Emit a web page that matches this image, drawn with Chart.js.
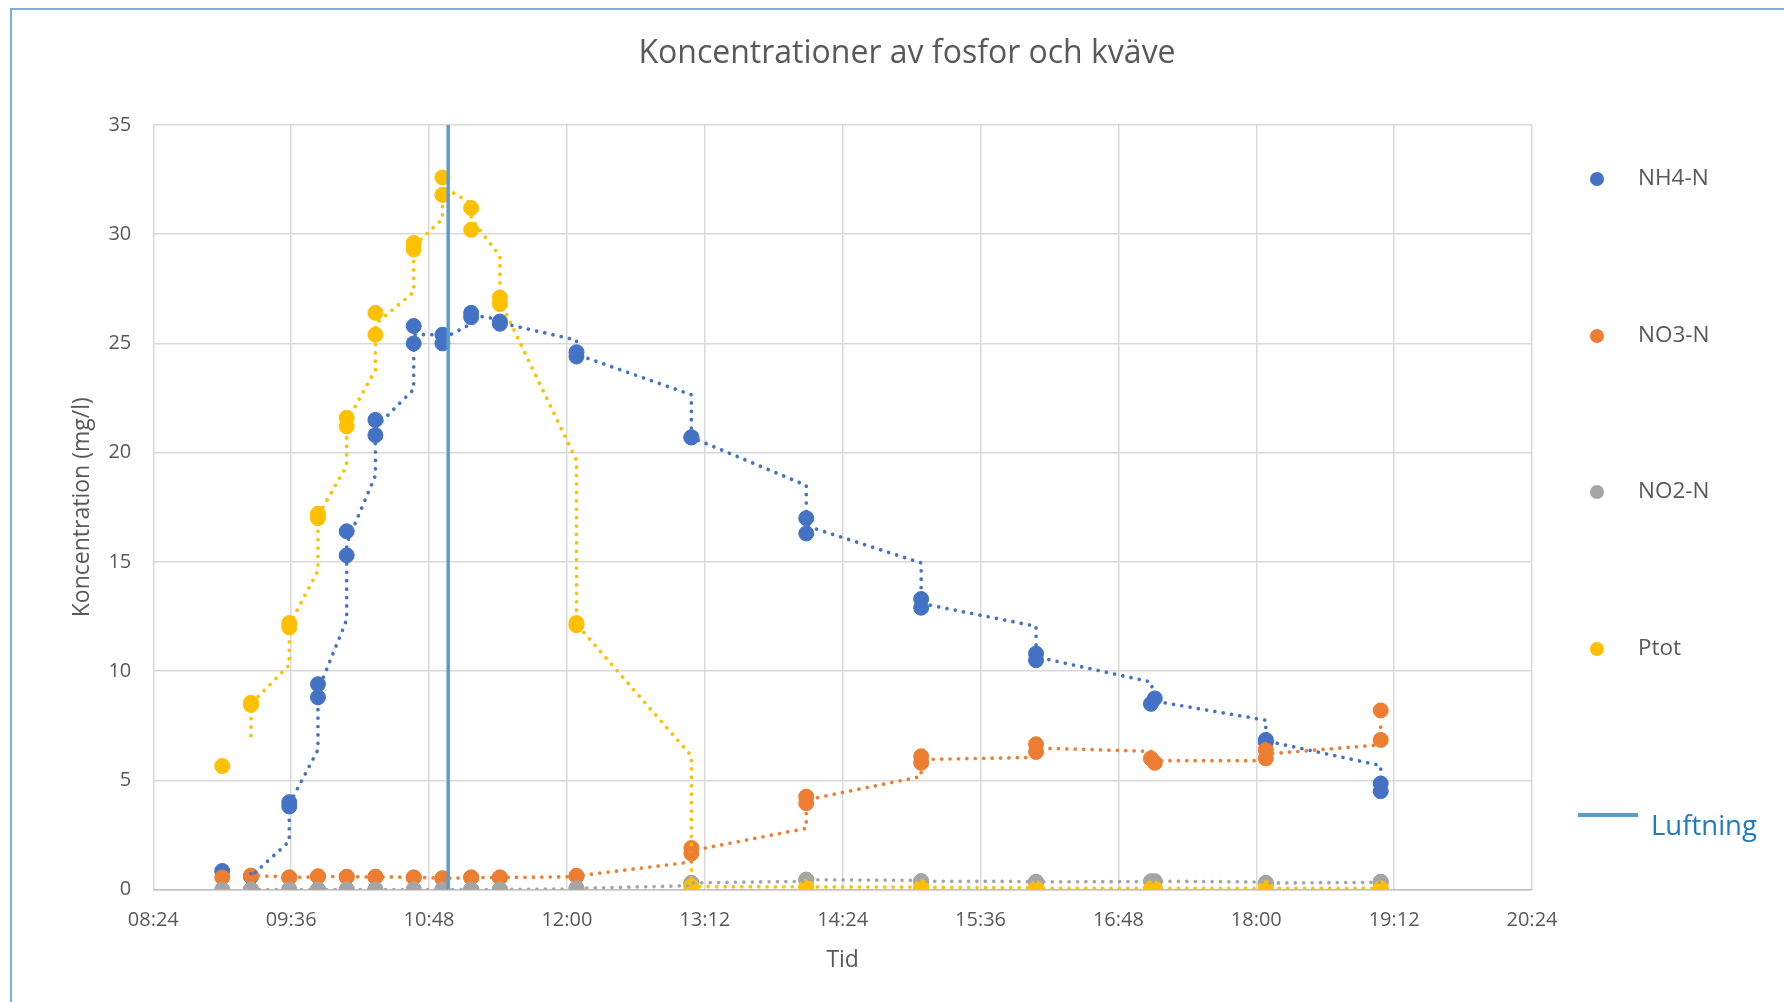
<!DOCTYPE html>
<html>
<head>
<meta charset="utf-8">
<script src="https://cdn.jsdelivr.net/npm/chart.js@4.4.1/dist/chart.umd.min.js"></script>
<style>
html,body{margin:0;padding:0;background:#ffffff;overflow:hidden;}
#wrap{position:relative;width:1784px;height:1002px;}
canvas{display:block;}
</style>
</head>
<body>
<div id="wrap"><canvas id="chart" width="1784" height="1002"></canvas></div>
<script>
// ---------------- data ----------------
const chartTitle = "Koncentrationer av fosfor och kväve";
const xAxisTitle = "Tid";
const yAxisTitle = "Koncentration (mg/l)";
const seriesNames = ["NH4-N", "NO3-N", "NO2-N", "Ptot"];
const luftningName = "Luftning";

const sampleTimes = ["09:00",
  "09:15","09:15","09:35","09:35","09:50","09:50","10:05","10:05","10:20","10:20",
  "10:40","10:40","10:55","10:55","11:10","11:10","11:25","11:25","12:05","12:05",
  "13:05","13:05","14:05","14:05","15:05","15:05","16:05","16:05","17:05","17:07",
  "18:05","18:05","19:05","19:05"];

const nh4 = [0.85,
  0.6,0.6, 3.8,4.0, 8.8,9.4, 15.3,16.4, 21.5,20.8,
  25.0,25.8, 25.0,25.4, 26.4,26.2, 26.0,25.9, 24.4,24.6,
  20.7,20.7, 16.3,17.0, 12.9,13.3, 10.8,10.5, 8.5,8.75,
  6.75,6.85, 4.5,4.85];

const no3 = [0.55,
  0.63,0.63, 0.55,0.55, 0.6,0.6, 0.58,0.58, 0.58,0.58,
  0.55,0.55, 0.5,0.52, 0.55,0.55, 0.55,0.55, 0.62,0.62,
  1.9,1.65, 3.95,4.25, 6.1,5.8, 6.3,6.65, 6.0,5.8,
  6.0,6.4, 6.85,8.2];

const no2 = [0,
  0,0, 0,0, 0,0, 0,0, 0,0,
  0,0, 0,0, 0,0, 0,0, 0.05,0.05,
  0.3,0.3, 0.45,0.45, 0.38,0.38, 0.35,0.35, 0.38,0.38,
  0.3,0.3, 0.35,0.35];

const ptot = [5.65,
  8.45,8.55, 12.0,12.2, 17.0,17.2, 21.6,21.2, 26.4,25.4,
  29.3,29.6, 31.8,32.6, 30.2,31.2, 26.8,27.1, 12.2,12.1,
  0.13,0.13, 0.12,0.12, 0.1,0.1, 0.05,0.05, 0.05,0.05,
  0.05,0.05, 0.05,0.05];

const luftningTimes = ["10:58", "10:58"];
const luftningValues = [0, 35];

const xAxisMin = "08:24", xAxisMax = "20:24", xStepMinutes = 72;
const yAxisMin = 0, yAxisMax = 35, yAxisStep = 5;
const trendPeriod = 2; // moving-average trendline period (as in the source chart)

// ---------------- helpers ----------------
function toMin(s){ const p = s.split(":").map(Number); return p[0]*60 + p[1] + (p[2]||0)/60; }
function fmtTime(m){ const h = Math.floor(m/60), mm = Math.round(m - h*60); return String(h).padStart(2,"0") + ":" + String(mm).padStart(2,"0"); }
function points(times, vals){ return vals.map((v,i)=>({x: toMin(times[i]), y: v})); }
function movingAverage(times, vals, n){
  const out = [];
  for (let i = n-1; i < vals.length; i++){
    let s = 0; for (let k = 0; k < n; k++) s += vals[i-k];
    out.push({x: toMin(times[i]), y: s/n});
  }
  return out;
}

const colors = ["#4472C4", "#ED7D31", "#A5A5A5", "#FFC000"];
const luftColor = "#5B9BD5";
const allSeries = [nh4, no3, no2, ptot];

const datasets = [];
allSeries.forEach((vals, i) => {
  datasets.push({
    type: "scatter",
    label: seriesNames[i],
    data: points(sampleTimes, vals),
    backgroundColor: colors[i],
    borderColor: colors[i],
    pointRadius: 7.5,
    pointHoverRadius: 7.5,
    pointBorderWidth: 1,
    order: 4 - i
  });
});
allSeries.forEach((vals, i) => {
  datasets.push({
    type: "line",
    label: seriesNames[i] + " trend",
    data: movingAverage(sampleTimes, vals, trendPeriod),
    borderColor: colors[i],
    borderWidth: 3.7,
    borderDash: [0.01, 8.4],
    borderCapStyle: "round",
    pointRadius: 0,
    fill: false,
    tension: 0,
    order: 0
  });
});
datasets.push({
  type: "line",
  label: luftningName,
  data: points(luftningTimes, luftningValues),
  borderColor: luftColor,
  borderWidth: 3.5,
  pointRadius: 0,
  fill: false,
  order: -1
});

const FONT = "'Open Sans', 'Segoe UI', 'Noto Sans', sans-serif";
const TEXT = "#595959";
const titleCenterX = 907;

const framePlugin = {
  id: "frame",
  beforeDraw(chart){
    const c = chart.ctx;
    c.save();
    c.fillStyle = "#ffffff";
    c.fillRect(0,0,chart.width,chart.height);
    c.strokeStyle = "#74B4DC";
    c.lineWidth = 2;
    c.beginPath();
    c.moveTo(11, chart.height + 5);
    c.lineTo(11, 9);
    c.lineTo(chart.width + 5, 9);
    c.stroke();
    c.restore();
  },
  afterLayout(chart){
    const tb = chart.titleBlock;
    if (tb){
      const shift = titleCenterX - (tb.left + tb.right)/2;
      tb.left += shift; tb.right += shift;
    }
  }
};

const legendPlugin = {
  id: "customLegend",
  afterDraw(chart){
    const c = chart.ctx;
    const ys = [179, 336, 492, 649];
    c.save();
    c.textBaseline = "middle";
    c.textAlign = "left";
    seriesNames.forEach((name, i) => {
      c.fillStyle = colors[i];
      c.beginPath();
      c.arc(1597, ys[i], 7, 0, Math.PI*2);
      c.fill();
      c.fillStyle = TEXT;
      c.font = "22.5px " + FONT;
      c.fillText(name, 1638, ys[i]);
    });
    c.strokeStyle = luftColor;
    c.lineWidth = 4;
    c.beginPath();
    c.moveTo(1578, 815);
    c.lineTo(1638, 815);
    c.stroke();
    c.fillStyle = "#1B7BC4";
    c.font = "27.5px " + FONT;
    c.fillText(luftningName, 1651, 827);
    c.restore();
  }
};

new Chart(document.getElementById("chart"), {
  data: { datasets },
  options: {
    responsive: false,
    animation: false,
    devicePixelRatio: 1,
    layout: { padding: { left: 0, right: 252, top: 0, bottom: 0 } },
    plugins: {
      legend: { display: false },
      tooltip: { enabled: false },
      title: {
        display: true,
        text: chartTitle,
        color: TEXT,
        font: { family: FONT, size: 32, weight: "normal" },
        padding: { top: 35, bottom: 51.6 }
      }
    },
    scales: {
      x: {
        type: "linear",
        min: toMin(xAxisMin),
        max: toMin(xAxisMax),
        afterFit(scale){ scale.height = 112.5; },
        ticks: {
          stepSize: xStepMinutes,
          color: TEXT,
          font: { family: FONT, size: 20 },
          padding: 19,
          maxRotation: 0,
          callback: (v) => fmtTime(v)
        },
        grid: { color: "#D9D9D9", lineWidth: 1.5, drawTicks: false },
        border: { display: true, color: "#BFBFBF", width: 1.5 },
        title: {
          display: true, text: xAxisTitle, color: TEXT,
          font: { family: FONT, size: 23 },
          padding: { top: 4, bottom: 28 }
        }
      },
      y: {
        type: "linear",
        min: yAxisMin,
        max: yAxisMax,
        afterFit(scale){ scale.width = 153.3; },
        ticks: {
          stepSize: yAxisStep,
          color: TEXT,
          font: { family: FONT, size: 20 },
          padding: 22
        },
        grid: { color: "#D9D9D9", lineWidth: 1.5, drawTicks: false },
        border: { display: false },
        title: {
          display: true, text: yAxisTitle, color: TEXT,
          font: { family: FONT, size: 23 },
          padding: { top: 69, bottom: 0 }
        }
      }
    }
  },
  plugins: [framePlugin, legendPlugin]
});
</script>
</body>
</html>
